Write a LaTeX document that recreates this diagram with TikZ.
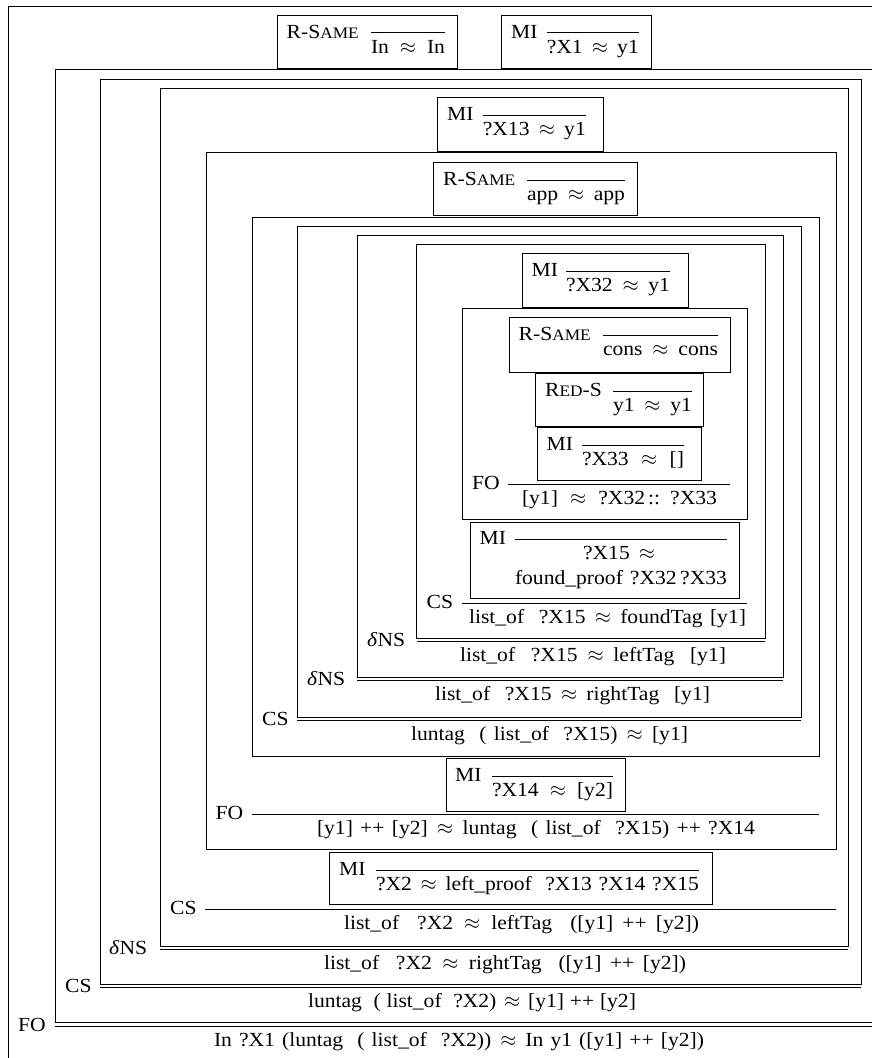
\documentclass[tikz,border=0pt]{standalone}
\usepackage{fontspec}
\setmainfont{Liberation Serif}[FakeStretch=1.08]
\newcommand\sk{\hskip 5pt plus 1fil minus 3pt\relax}
\newcommand\apg{{\fontsize{22}{22}\selectfont$\approx$}}
\newcommand\ap{\hskip 7pt plus 1fil minus 3pt\relax\apg\hskip 7pt plus 1fil minus 3pt\relax}
\newcommand\smc[1]{{\fontsize{16}{16}\selectfont #1}}
\newcommand\ct[2]{\makebox[#1pt][s]{#2}}
\tikzset{
  txt/.style={inner sep=0pt, anchor=base, font=\fontsize{20}{24}\selectfont},
  lab/.style={txt, anchor=base west},
  bx/.style={draw, line width=1pt},
  rl/.style={line width=0.9pt}
}
\begin{document}
\begin{tikzpicture}[x=1pt,y=-1pt]
\useasboundingbox (0,0) rectangle (872,1058);
% ---------- root frame ----------
\draw[bx] (8,6) rectangle (895,1085);
\node[lab] (rootl) at (18,1031.5) {FO};
\coordinate (rootr1) at (55,1026);
\coordinate (rootr2) at (895,1026);
\draw[rl] (rootr1) -- (rootr2);
\node[txt] (rootc) at (459,1046) {\ct{490}{In\sk?X1\sk(luntag\sk\sk(\sk list\_of\sk\sk?X2))\ap In\sk y1\sk([y1]\sk++\sk[y2])}};
% ---------- A1 ----------
\draw[bx] (277,15) rectangle (457,68);
\node[lab] (a1l) at (286.5,38.3) {R-S\smc{AME}};
\coordinate (a1r1) at (371,32.7); \coordinate (a1r2) at (445,32.7);
\draw[rl] (a1r1) -- (a1r2);
\node[txt] (a1c) at (408,53.5) {\ct{74}{In\ap In}};
% ---------- A2 ----------
\draw[bx] (501,15) rectangle (651,68);
\node[lab] (a2l) at (511,38.3) {MI};
\coordinate (a2r1) at (546.7,32.7); \coordinate (a2r2) at (639,32.7);
\draw[rl] (a2r1) -- (a2r2);
\node[txt] (a2c) at (592.8,53.5) {\ct{92}{?X1\ap y1}};
% ---------- P3 ----------
\draw[bx] (55,69.5) rectangle (895,1022);
\node[lab] (p3l) at (65,992.5) {CS};
\coordinate (p3r1) at (100,987); \coordinate (p3r2) at (861,987);
\draw[rl] (p3r1) -- (p3r2);
\node[txt] (p3c) at (472,1007) {\ct{328}{luntag\sk\sk(\sk list\_of\sk\sk?X2)\ap[y1]\sk++\sk[y2]}};
% ---------- P4 ----------
\draw[bx] (100,79.3) rectangle (861,984);
\node[lab] (p4l) at (109,954.5) {\textit{δ}NS};
\coordinate (p4r1) at (160,949); \coordinate (p4r2) at (848,949);
\draw[rl] (p4r1) -- (p4r2);
\node[txt] (p4c) at (505,969) {\ct{362}{list\_of\sk\sk?X2\ap rightTag\sk\sk([y1]\sk++\sk[y2])}};
% ---------- P5 ----------
\draw[bx] (160,88.3) rectangle (848,946);
\node[lab] (p5l) at (170,914.5) {CS};
\coordinate (p5r1) at (205,909); \coordinate (p5r2) at (836,909);
\draw[rl] (p5r1) -- (p5r2);
\node[txt] (p5c) at (521.5,929) {\ct{355}{list\_of\sk\sk?X2\ap leftTag\sk\sk([y1]\sk++\sk[y2])}};
% ---------- A3 ----------
\draw[bx] (437.7,97.3) rectangle (603.3,151.7);
\node[lab] (a3l) at (447,120.7) {MI};
\coordinate (a3r1) at (482.7,115); \coordinate (a3r2) at (586,115);
\draw[rl] (a3r1) -- (a3r2);
\node[txt] (a3c) at (534.3,135.5) {\ct{103}{?X13\ap y1}};
% ---------- A4 ----------
\draw[bx] (329,852) rectangle (712,904);
\node[lab] (a4l) at (339,875.5) {MI};
\coordinate (a4r1) at (376,870); \coordinate (a4r2) at (699,870);
\draw[rl] (a4r1) -- (a4r2);
\node[txt] (a4c) at (537.5,890) {\ct{323}{?X2\ap left\_proof\sk\sk?X13\sk?X14\sk?X15}};
% ---------- P6 ----------
\draw[bx] (206,152.7) rectangle (836,849);
\node[lab] (p6l) at (215.5,819.5) {FO};
\coordinate (p6r1) at (252,814); \coordinate (p6r2) at (819,814);
\draw[rl] (p6r1) -- (p6r2);
\node[txt] (p6c) at (536,834) {\ct{438}{[y1]\sk++\sk[y2]\ap luntag\sk\sk(\sk list\_of\sk\sk?X15)\sk++\sk?X14}};
% ---------- A5 ----------
\draw[bx] (433,162) rectangle (637,215);
\node[lab] (a5l) at (443,185.5) {R-S\smc{AME}};
\coordinate (a5r1) at (527,180); \coordinate (a5r2) at (625,180);
\draw[rl] (a5r1) -- (a5r2);
\node[txt] (a5c) at (576,200.5) {\ct{98}{app\ap app}};
% ---------- A6 ----------
\draw[bx] (446,758) rectangle (625,811);
\node[lab] (a6l) at (455,781.5) {MI};
\coordinate (a6r1) at (492,776); \coordinate (a6r2) at (613,776);
\draw[rl] (a6r1) -- (a6r2);
\node[txt] (a6c) at (552.5,796.5) {\ct{121}{?X14\ap[y2]}};
% ---------- P7 ----------
\draw[bx] (252,217) rectangle (819,756);
\node[lab] (p7l) at (262,725.5) {CS};
\coordinate (p7r1) at (297,720); \coordinate (p7r2) at (801,720);
\draw[rl] (p7r1) -- (p7r2);
\node[txt] (p7c) at (549.5,740) {\ct{277}{luntag\sk\sk(\sk list\_of\sk\sk?X15)\ap[y1]}};
% ---------- P8 ----------
\draw[bx] (297,226) rectangle (801,717);
\node[lab] (p8l) at (307,685.5) {\textit{δ}NS};
\coordinate (p8r1) at (357,680); \coordinate (p8r2) at (783,680);
\draw[rl] (p8r1) -- (p8r2);
\node[txt] (p8c) at (572.5,700) {\ct{275}{list\_of\sk\sk?X15\ap rightTag\sk\sk[y1]}};
% ---------- P9 ----------
\draw[bx] (357,235) rectangle (783,677);
\node[lab] (p9l) at (367,646.5) {\textit{δ}NS};
\coordinate (p9r1) at (416.5,641); \coordinate (p9r2) at (765,641);
\draw[rl] (p9r1) -- (p9r2);
\node[txt] (p9c) at (593,661) {\ct{266}{list\_of\sk\sk?X15\ap leftTag\sk\sk[y1]}};
% ---------- P10 ----------
\draw[bx] (416.5,244) rectangle (765,638);
\node[lab] (p10l) at (426.5,608.5) {CS};
\coordinate (p10r1) at (462,603); \coordinate (p10r2) at (747,603);
\draw[rl] (p10r1) -- (p10r2);
\node[txt] (p10c) at (607.5,623) {\ct{277}{list\_of\sk\sk?X15\ap foundTag\sk[y1]}};
% ---------- A7 ----------
\draw[bx] (522,253) rectangle (688,307);
\node[lab] (a7l) at (531.5,276.5) {MI};
\coordinate (a7r1) at (566,271); \coordinate (a7r2) at (670,271);
\draw[rl] (a7r1) -- (a7r2);
\node[txt] (a7c) at (618,291.5) {\ct{104}{?X32\ap y1}};
% ---------- P11 ----------
\draw[bx] (462,308) rectangle (747,519);
\node[lab] (p11l) at (472,489.5) {FO};
\coordinate (p11r1) at (508,484); \coordinate (p11r2) at (730,484);
\draw[rl] (p11r1) -- (p11r2);
\node[txt] (p11c) at (619.5,504) {\ct{195}{[y1]\ap?X32\kern3pt::\sk?X33}};
% ---------- A8 ----------
\draw[bx] (509,317) rectangle (730,372);
\node[lab] (a8l) at (518.5,340.5) {R-S\smc{AME}};
\coordinate (a8r1) at (603,335); \coordinate (a8r2) at (718,335);
\draw[rl] (a8r1) -- (a8r2);
\node[txt] (a8c) at (660.5,355.5) {\ct{115}{cons\ap cons}};
% ---------- A9 ----------
\draw[bx] (535,373) rectangle (703,426);
\node[lab] (a9l) at (545,396.5) {R\smc{ED}-S};
\coordinate (a9r1) at (613,391); \coordinate (a9r2) at (692,391);
\draw[rl] (a9r1) -- (a9r2);
\node[txt] (a9c) at (652.5,411.5) {\ct{79}{y1\ap y1}};
% ---------- A11 ----------
\draw[bx] (537,427) rectangle (701,480);
\node[lab] (a11l) at (546.5,450.5) {MI};
\coordinate (a11r1) at (582,445); \coordinate (a11r2) at (684,445);
\draw[rl] (a11r1) -- (a11r2);
\node[txt] (a11c) at (633,465.5) {\ct{102}{?X33\ap[]}};
% ---------- A10 ----------
\draw[bx] (470,522) rectangle (739,598);
\node[lab] (a10l) at (479.5,544.5) {MI};
\coordinate (a10r1) at (515,539); \coordinate (a10r2) at (727,539);
\draw[rl] (a10r1) -- (a10r2);
\node[txt] (a10c) at (619,559) {?X15\kern9pt\apg};
\node[txt] (a10d) at (621,584) {\ct{212}{found\_proof\sk\sk?X32\sk?X33}};
\end{tikzpicture}
\end{document}
